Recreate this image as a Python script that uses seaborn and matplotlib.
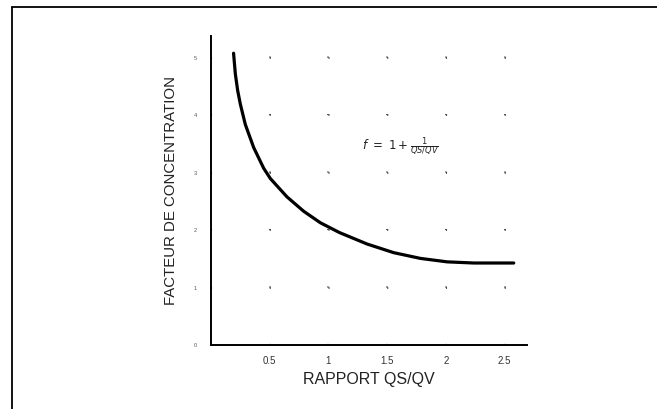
import numpy as np
import pandas as pd
import matplotlib
matplotlib.use("Agg")
import matplotlib.pyplot as plt
import seaborn as sns
from matplotlib.lines import Line2D

# Data
rapport = [0.193, 0.208, 0.228, 0.250, 0.293, 0.364, 0.449, 0.506, 0.648, 0.790,
           0.932, 1.094, 1.330, 1.556, 1.784, 2.011, 2.238, 2.578]
facteur = [5.08, 4.72, 4.43, 4.20, 3.84, 3.44, 3.08, 2.90, 2.58, 2.33,
           2.13, 1.96, 1.76, 1.61, 1.51, 1.45, 1.43, 1.43]
x_ticks = [0.5, 1.0, 1.5, 2.0, 2.5]
x_tick_labels = ["0.5", "1", "1.5", "2", "2.5"]
y_ticks = [0, 1, 2, 3, 4, 5]

df = pd.DataFrame({"QS/QV": rapport, "f": facteur})

sns.set_style("white")
plt.rcParams["font.family"] = ["Liberation Sans", "DejaVu Sans"]

fig = plt.figure(figsize=(6.57, 4.09), dpi=100)
ax = fig.add_axes([0.321, 0.156, 0.481, 0.756])

sns.lineplot(data=df, x="QS/QV", y="f", color="black", linewidth=2.3, ax=ax,
             solid_joinstyle="round", solid_capstyle="round")

ax.set_xlim(0, 2.69)
ax.set_ylim(0, 5.38)
ax.set_xticks(x_ticks)
ax.set_xticklabels(x_tick_labels)
ax.set_yticks(y_ticks)
ax.set_yticklabels([str(v) for v in y_ticks])
ax.tick_params(axis="x", length=0, labelsize=7, labelcolor="#333333", pad=8)
ax.tick_params(axis="y", length=0, labelsize=4, labelcolor="#555555", pad=10)

# sparse dotted grid: one dot per tick spacing, so dots land on intersections
ax_w_pt = 0.481 * 6.57 * 72
ax_h_pt = 0.756 * 4.09 * 72
dx = ax_w_pt * 0.5 / 2.69
dy = ax_h_pt * 1.0 / 5.38
ax.xaxis.grid(True, color="#444444", linewidth=1.3, linestyle=(0, (0.6, dy / 1.3 - 0.6)))
ax.yaxis.grid(True, color="#444444", linewidth=1.3, linestyle=(0, (0.6, dx / 1.3 - 0.6)))

for side in ["top", "right"]:
    ax.spines[side].set_visible(False)
for side in ["left", "bottom"]:
    ax.spines[side].set_color("black")
    ax.spines[side].set_linewidth(1.4)

ax.set_xlabel("RAPPORT QS/QV", fontsize=11.5, color="#222222", labelpad=4)
ax.set_ylabel("FACTEUR DE CONCENTRATION", fontsize=10.8, color="#222222", labelpad=11)

ax.text(1.29, 3.45, r"$f\ =\ 1 + \frac{1}{QS/QV}$", fontsize=8.5, color="#222222",
        va="center", ha="left")

# frame lines of the scanned page
fig.add_artist(Line2D([0.018, 1.0], [0.983, 0.983], color="black", linewidth=1.3))
fig.add_artist(Line2D([0.018, 0.018], [0.0, 0.983], color="black", linewidth=1.3))

fig.savefig("out.png", dpi=100)
